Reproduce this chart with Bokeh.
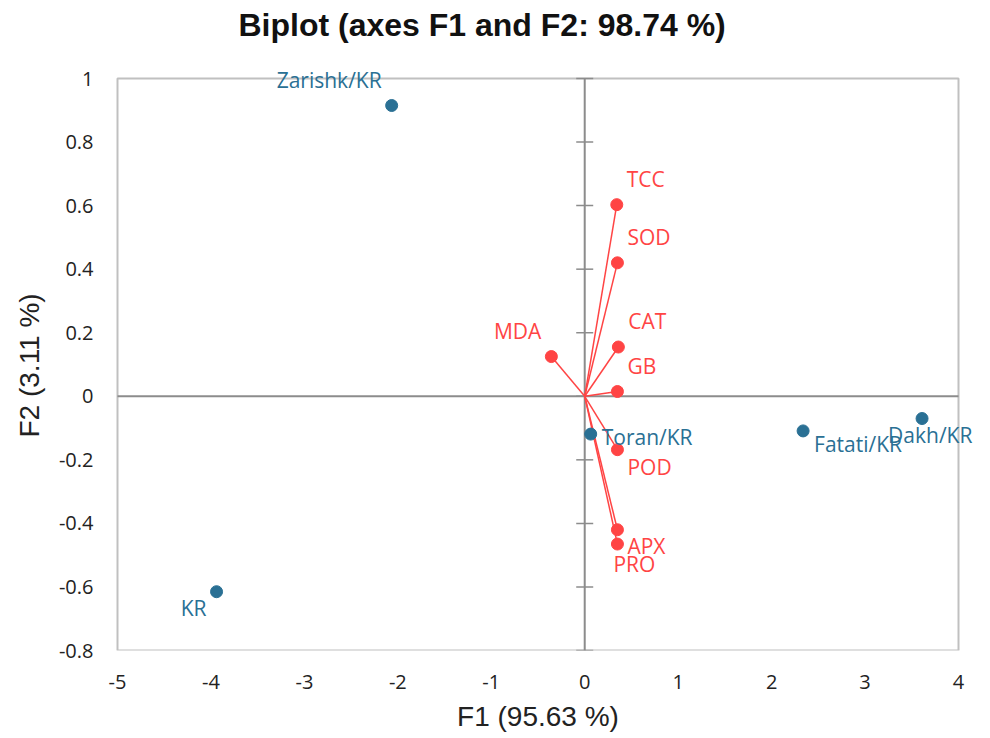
from bokeh.plotting import figure
from bokeh.models import ColumnDataSource, Label, BoxAnnotation, FixedTicker, Range1d, Title
from bokeh.embed import file_html
from bokeh.resources import INLINE

# ---- data ----
obs_names = ["Zarishk/KR", "KR", "Toran/KR", "Fatati/KR", "Dakh/KR"]
obs_f1 = [-2.066, -3.94, 0.064, 2.337, 3.61]
obs_f2 = [0.915, -0.615, -0.119, -0.109, -0.07]

var_names = ["TCC", "SOD", "CAT", "GB", "MDA", "POD", "APX", "PRO"]
var_f1 = [0.343, 0.35, 0.36, 0.35, -0.357, 0.35, 0.35, 0.35]
var_f2 = [0.603, 0.42, 0.155, 0.015, 0.125, -0.168, -0.42, -0.465]

x_ticks = [-5, -4, -3, -2, -1, 0, 1, 2, 3, 4]
x_tick_labels = ["-5", "-4", "-3", "-2", "-1", "0", "1", "2", "3", "4"]
y_ticks = [-0.8, -0.6, -0.4, -0.2, 0, 0.2, 0.4, 0.6, 0.8, 1]
y_tick_labels = ["-0.8", "-0.6", "-0.4", "-0.2", "0", "0.2", "0.4", "0.6", "0.8", "1"]

# label placement (pixels)
obs_dx = [-10, -10, 11, 11, -34]
obs_dy = [26, -16, -3, -13, -16]
obs_align = ["right", "right", "left", "left", "left"]
var_dx = [10, 10, 10, 10, -10, 10, 10, -4]
var_dy = [26, 26, 26, 26, 26, -17, -16, -20]
var_align = ["left", "left", "left", "left", "right", "left", "left", "left"]

BLUE = "#2a7094"
RED = "#ff4444"
GRAY = "#8c8c8c"

# the plotting box is 841 x 572 px at (117, 78); the frame is padded left, right
# and top so that labels outside the box are not clipped
BOX_L, BOX_T, BOX_W, BOX_H = 117, 78, 841, 572
PAD_L, PAD_R, PAD_T = 24, 24, 34
x0, x1 = x_ticks[0], x_ticks[-1]
y0, y1 = y_ticks[0], y_ticks[-1]
x_start = x0 - (x1 - x0) * PAD_L / BOX_W
x_end = x1 + (x1 - x0) * PAD_R / BOX_W
y_end = y1 + (y1 - y0) * PAD_T / BOX_H

W, H = 982, 738
p = figure(width=W, height=H, output_backend="svg", toolbar_location=None,
           x_range=Range1d(x_start, x_end), y_range=Range1d(y0, y_end),
           min_border_left=BOX_L - PAD_L, min_border_right=W - BOX_L - BOX_W - PAD_R,
           min_border_top=BOX_T - PAD_T, min_border_bottom=H - BOX_T - BOX_H)

p.title.text = "Biplot (axes F1 and F2: 98.74 %)"
p.title.text_font = "Liberation Sans"
p.title.text_font_style = "bold"
p.title.text_font_size = "32px"
p.title.text_color = "#111111"
p.title.align = "left"
p.title.offset = 121 + PAD_L
p.title.standoff = 4

p.grid.visible = False
p.outline_line_color = None

p.add_layout(BoxAnnotation(left=x0, right=x1, bottom=y0, top=y1, fill_alpha=0,
                           line_color="#c0c0c0", line_alpha=1, line_width=2,
                           level="underlay"))

p.xaxis.ticker = FixedTicker(ticks=x_ticks)
p.xaxis.major_label_overrides = {t: l for t, l in zip(x_ticks, x_tick_labels)}
p.yaxis.ticker = FixedTicker(ticks=y_ticks)
p.yaxis.major_label_overrides = {t: l for t, l in zip(y_ticks, y_tick_labels)}
for ax in (p.xaxis, p.yaxis):
    ax.axis_line_color = None
    ax.major_tick_line_color = None
    ax.minor_tick_line_color = None
    ax.major_tick_in = 0
    ax.major_tick_out = 0
    ax.major_label_text_font = "Open Sans"
    ax.major_label_text_font_size = "20px"
    ax.major_label_text_color = "#222222"
    ax.axis_label_text_font = "Liberation Sans"
    ax.axis_label_text_font_style = "normal"
    ax.axis_label_text_color = "#222222"
    ax.axis_label_text_font_size = "28px"

p.xaxis.axis_label = "F1 (95.63 %)"
p.xaxis.major_label_standoff = 24
p.xaxis.axis_label_standoff = 9
p.yaxis.major_label_standoff = 0

# vertical axis title, placed beside the box (not the padded frame)
p.add_layout(Title(text="F2 (3.11 %)", text_font="Liberation Sans", text_font_style="normal",
                   text_font_size="28px", text_color="#222222", align="left",
                   offset=213, standoff=22), "left")

# crosshair lines through the origin
p.segment(x0=[x0, 0], y0=[0, y0], x1=[x1, 0], y1=[0, y1], line_color=GRAY, line_width=2)
# tick marks on the vertical centre line
p.scatter(x=[0] * len(y_ticks), y=y_ticks, marker="dash", size=17,
          line_color=GRAY, line_width=1.5)

# variable vectors
vsrc = ColumnDataSource(dict(x0=[0] * len(var_f1), y0=[0] * len(var_f2), x=var_f1, y=var_f2))
p.segment(x0="x0", y0="y0", x1="x", y1="y", source=vsrc, line_color=RED, line_width=1.5)
p.scatter(x="x", y="y", source=vsrc, size=12, fill_color=RED, line_color=RED)
for name, x, y, dx, dy, al in zip(var_names, var_f1, var_f2, var_dx, var_dy, var_align):
    p.add_layout(Label(x=x, y=y, text=name, x_offset=dx, y_offset=dy, text_align=al,
                       text_baseline="middle", text_color=RED, text_font="Open Sans",
                       text_font_size="21px"))

# observations
osrc = ColumnDataSource(dict(x=obs_f1, y=obs_f2))
p.scatter(x="x", y="y", source=osrc, size=12, fill_color=BLUE, line_color=BLUE)
for name, x, y, dx, dy, al in zip(obs_names, obs_f1, obs_f2, obs_dx, obs_dy, obs_align):
    p.add_layout(Label(x=x, y=y, text=name, x_offset=dx, y_offset=dy, text_align=al,
                       text_baseline="middle", text_color=BLUE, text_font="Open Sans",
                       text_font_size="21px"))

open("out.html", "w").write(file_html(p, INLINE))
